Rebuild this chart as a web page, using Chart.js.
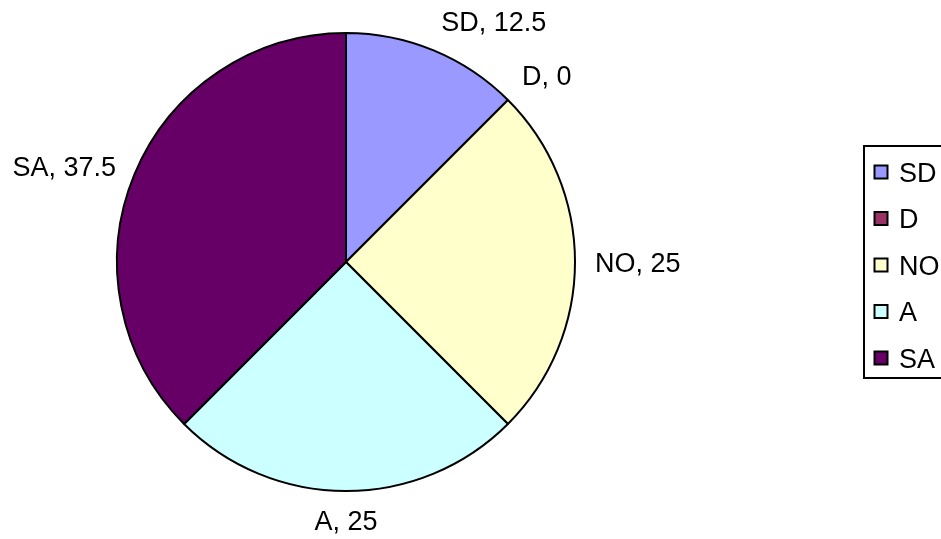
<!DOCTYPE html>
<html>
<head>
<meta charset="utf-8">
<script src="https://cdn.jsdelivr.net/npm/chart.js@4.4.1/dist/chart.umd.min.js"></script>
<style>
  html, body { margin: 0; padding: 0; background: #fff; }
  #wrap { width: 941px; height: 539px; }
</style>
</head>
<body>
<div id="wrap"><canvas id="pieChart" width="941" height="539"></canvas></div>
<script>
// data
const categories = ["SD", "D", "NO", "A", "SA"];
const values = [12.5, 0, 25, 25, 37.5];
const sliceColors = ["#9999FF", "#993366", "#FFFFCC", "#CCFFFF", "#660066"];

const FONT_SIZE = 27;
const FONT = FONT_SIZE + 'px "Liberation Sans", Arial, sans-serif';
const CAP = FONT_SIZE * 0.716;

// labels like "SD, 12.5" outside each slice, aligned the way Excel does it
const outsideLabels = {
    id: "outsideLabels",
    afterDatasetsDraw(chart) {
        const ctx = chart.ctx;
        const meta = chart.getDatasetMeta(0);
        ctx.save();
        ctx.font = FONT;
        ctx.fillStyle = "#000";
        ctx.textBaseline = "alphabetic";
        meta.data.forEach((arc, i) => {
            const { x, y, startAngle, endAngle, outerRadius } = arc.getProps(["x", "y", "startAngle", "endAngle", "outerRadius"], true);
            const mid = (startAngle + endAngle) / 2;
            const dx = Math.cos(mid), dy = Math.sin(mid);
            const r = outerRadius + 20;
            const ax = x + dx * r, ay = y + dy * r;
            const text = categories[i] + ", " + values[i];

            if (dx > 0.1) ctx.textAlign = "left";
            else if (dx < -0.1) ctx.textAlign = "right";
            else ctx.textAlign = "center";

            let by;
            if (dy < -0.5) by = ay - 1;            // above: sit on the anchor
            else if (dy > 0.5) by = ay + CAP;      // below: hang from it
            else by = ay + CAP / 2;                // side: centre on it
            ctx.fillText(text, ax, by);
        });
        ctx.restore();
    }
};

// boxed legend on the right, cut by the edge like the original
const boxLegend = {
    id: "boxLegend",
    afterDraw(chart) {
        const ctx = chart.ctx;
        const left = 863, top = 145, bottom = 379;
        ctx.save();
        ctx.strokeStyle = "#000";
        ctx.lineWidth = 2;
        ctx.strokeRect(left + 1, top + 1, 120, bottom - top - 2);
        ctx.font = FONT;
        ctx.textBaseline = "alphabetic";
        ctx.textAlign = "left";
        categories.forEach((c, i) => {
            const yy = 172 + i * 46.5;
            ctx.fillStyle = sliceColors[i];
            ctx.fillRect(874.5, yy - 6.5, 13, 13);
            ctx.lineWidth = 2;
            ctx.strokeRect(874.5, yy - 6.5, 13, 13);
            ctx.fillStyle = "#000";
            ctx.fillText(c, 899, yy + CAP / 2);
        });
        ctx.restore();
    }
};

new Chart(document.getElementById("pieChart"), {
    type: "pie",
    data: {
        labels: categories,
        datasets: [{
            data: values,
            backgroundColor: sliceColors,
            borderColor: "#000",
            borderWidth: 2
        }]
    },
    options: {
        responsive: false,
        animation: false,
        layout: { padding: { left: 116, right: 365, top: 32, bottom: 47 } },
        plugins: {
            legend: { display: false },
            tooltip: { enabled: false }
        }
    },
    plugins: [outsideLabels, boxLegend]
});
</script>
</body>
</html>
